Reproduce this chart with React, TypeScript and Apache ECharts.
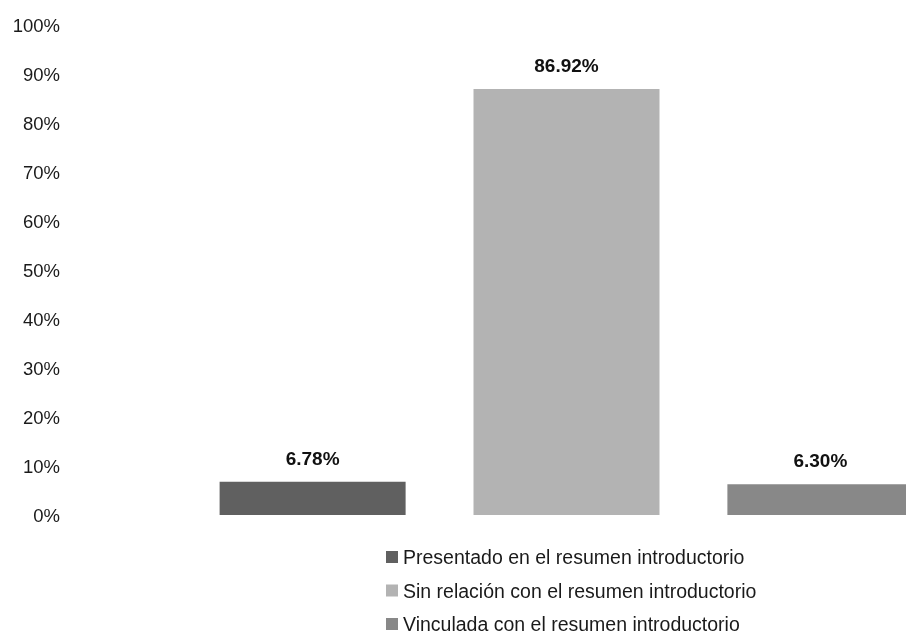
import React, { useEffect, useRef } from "react";
import * as echarts from "echarts";

const seriesNames = [
  "Presentado en el resumen introductorio",
  "Sin relación con el resumen introductorio",
  "Vinculada con el resumen introductorio",
];
const seriesValues = [6.78, 86.92, 6.3];
const seriesColors = ["#606060", "#b3b3b3", "#888888"];
const category = ["Total"];

const FONT = "'Liberation Sans Narrow', 'Arial Narrow', 'Liberation Sans', Arial, sans-serif";

export default function App() {
  const ref = useRef<HTMLDivElement>(null);
  useEffect(() => {
    const chart = echarts.init(ref.current!, null, { renderer: "svg" });
    chart.setOption({
      animation: false,
      textStyle: { fontFamily: FONT },
      grid: { left: 227, right: -83, top: 25, bottom: 120, containLabel: false },
      legend: {
        orient: "vertical",
        left: 386,
        top: 547,
        height: 100,
        padding: 0,
        itemWidth: 12,
        itemHeight: 12,
        itemGap: 13.5,
        icon: "rect",
        textStyle: { fontFamily: FONT, fontSize: 19.5, lineHeight: 19, color: "#1a1a1a" },
        data: seriesNames,
      },
      xAxis: {
        type: "category",
        data: category,
        axisLine: { show: false },
        axisTick: { show: false },
        axisLabel: { show: false },
      },
      yAxis: {
        type: "value",
        min: 0,
        max: 100,
        interval: 10,
        splitLine: { show: false },
        axisLine: { show: false },
        axisTick: { show: false },
        axisLabel: {
          formatter: "{value}%",
          fontFamily: FONT,
          fontSize: 18.5,
          color: "#1a1a1a",
          margin: 167,
        },
      },
      series: seriesNames.map((name, i) => ({
        name,
        type: "bar",
        clip: false,
        data: [seriesValues[i]],
        barWidth: 186,
        barGap: "36.5%",
        itemStyle: { color: seriesColors[i] },
        label: {
          show: true,
          position: "top",
          distance: 14,
          formatter: (p: any) => p.value.toFixed(2) + "%",
          fontFamily: FONT,
          fontSize: 19,
          fontWeight: "bold",
          color: "#111",
        },
      })),
    });
    return () => chart.dispose();
  }, []);
  return <div ref={ref} style={{ position: "fixed", left: 0, top: 0, width: 906, height: 635 }} />;
}
